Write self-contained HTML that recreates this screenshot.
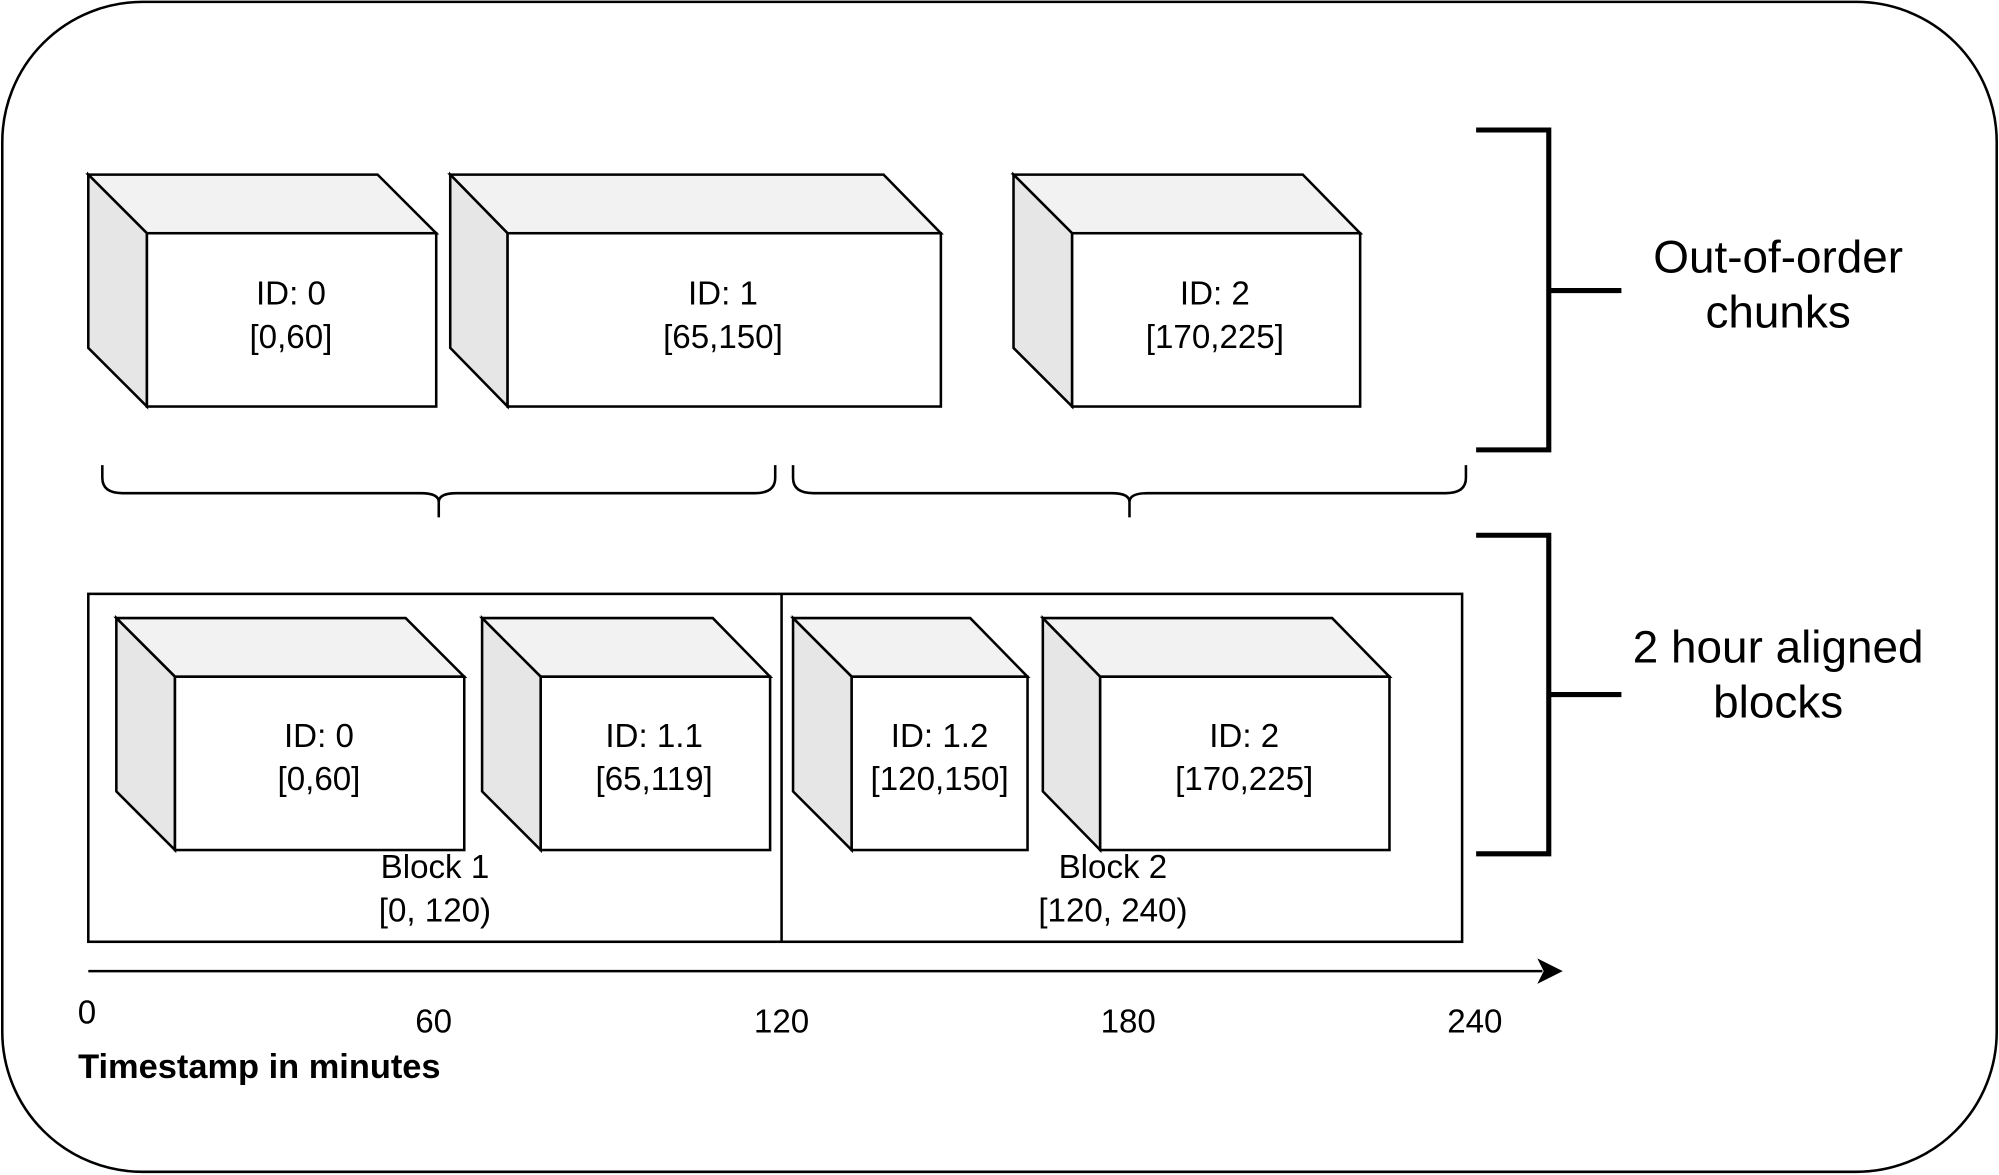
<!DOCTYPE html>
<html><head><meta charset="utf-8"><style>
html,body{margin:0;padding:0;background:#fff;}
svg{display:block;}
text{font-family:"Liberation Sans",sans-serif;fill:#000;}
</style></head><body>
<svg width="1999" height="1175" viewBox="0 0 1568 922" xmlns="http://www.w3.org/2000/svg">
<rect x="1.5" y="1.5" width="1565" height="918" rx="110" ry="110" fill="#fff" stroke="#000" stroke-width="2"/>
<g stroke="#000" stroke-width="2" stroke-linejoin="miter">
<polygon points="69,137 296,137 342,183 115,183" fill="#f2f2f2"/>
<polygon points="69,137 115,183 115,319 69,273" fill="#e6e6e6"/>
<rect x="115" y="183" width="227" height="136" fill="#fff"/>
<polygon points="353,137 693,137 738,183 398,183" fill="#f2f2f2"/>
<polygon points="353,137 398,183 398,319 353,273" fill="#e6e6e6"/>
<rect x="398" y="183" width="340" height="136" fill="#fff"/>
<polygon points="795,137 1022,137 1067,183 841,183" fill="#f2f2f2"/>
<polygon points="795,137 841,183 841,319 795,273" fill="#e6e6e6"/>
<rect x="841" y="183" width="226" height="136" fill="#fff"/>
<rect x="69" y="466" width="1078" height="273" fill="#fff"/>
<line x1="613" y1="466" x2="613" y2="739"/>
<polygon points="91,485 318,485 364,531 137,531" fill="#f2f2f2"/>
<polygon points="91,485 137,531 137,667 91,621" fill="#e6e6e6"/>
<rect x="137" y="531" width="227" height="136" fill="#fff"/>
<polygon points="378,485 559,485 604,531 424,531" fill="#f2f2f2"/>
<polygon points="378,485 424,531 424,667 378,621" fill="#e6e6e6"/>
<rect x="424" y="531" width="180" height="136" fill="#fff"/>
<polygon points="622,485 761,485 806,531 668,531" fill="#f2f2f2"/>
<polygon points="622,485 668,531 668,667 622,621" fill="#e6e6e6"/>
<rect x="668" y="531" width="138" height="136" fill="#fff"/>
<polygon points="818,485 1045,485 1090,531 863,531" fill="#f2f2f2"/>
<polygon points="818,485 863,531 863,667 818,621" fill="#e6e6e6"/>
<rect x="863" y="531" width="227" height="136" fill="#fff"/>
<path d="M80,365 V375 Q80,387 96,387 H330 Q344,387 344,394 Q344,387 358,387 H592 Q608,387 608,375 V365 M344,394 V406" fill="none"/>
<path d="M622,365 V375 Q622,387 638,387 H872 Q886,387 886,394 Q886,387 900,387 H1134 Q1150,387 1150,375 V365 M886,394 V406" fill="none"/>
</g>
<g stroke="#000" stroke-width="4" fill="none">
<path d="M1158,102 H1215 V353 H1158 M1215,228 H1272"/>
<path d="M1158,420 H1215 V670 H1158 M1215,545 H1272"/>
</g>
<line x1="69" y1="762" x2="1210" y2="762" stroke="#000" stroke-width="2"/>
<polygon points="1226,762 1206,752 1211,762 1206,772" fill="#000"/>
<g font-size="26" text-anchor="middle">
<text x="228" y="239">ID: 0</text><text x="228" y="273">[0,60]</text>
<text x="567" y="239">ID: 1</text><text x="567" y="273">[65,150]</text>
<text x="953" y="239">ID: 2</text><text x="953" y="273">[170,225]</text>
<text x="250" y="586">ID: 0</text><text x="250" y="620">[0,60]</text>
<text x="513" y="586">ID: 1.1</text><text x="513" y="620">[65,119]</text>
<text x="737" y="586">ID: 1.2</text><text x="737" y="620">[120,150]</text>
<text x="976" y="586">ID: 2</text><text x="976" y="620">[170,225]</text>
<text x="341" y="689">Block 1</text><text x="341" y="723">[0, 120)</text>
<text x="873" y="689">Block 2</text><text x="873" y="723">[120, 240)</text>
<text x="68" y="803">0</text>
<text x="340" y="810">60</text>
<text x="613" y="810">120</text>
<text x="885" y="810">180</text>
<text x="1157" y="810">240</text>
</g>
<text x="61" y="846" font-size="27" font-weight="bold">Timestamp in minutes</text>
<g font-size="36" text-anchor="middle">
<text x="1395" y="214">Out-of-order</text><text x="1395" y="257">chunks</text>
<text x="1395" y="520">2 hour aligned</text><text x="1395" y="563">blocks</text>
</g>
</svg>
</body></html>
